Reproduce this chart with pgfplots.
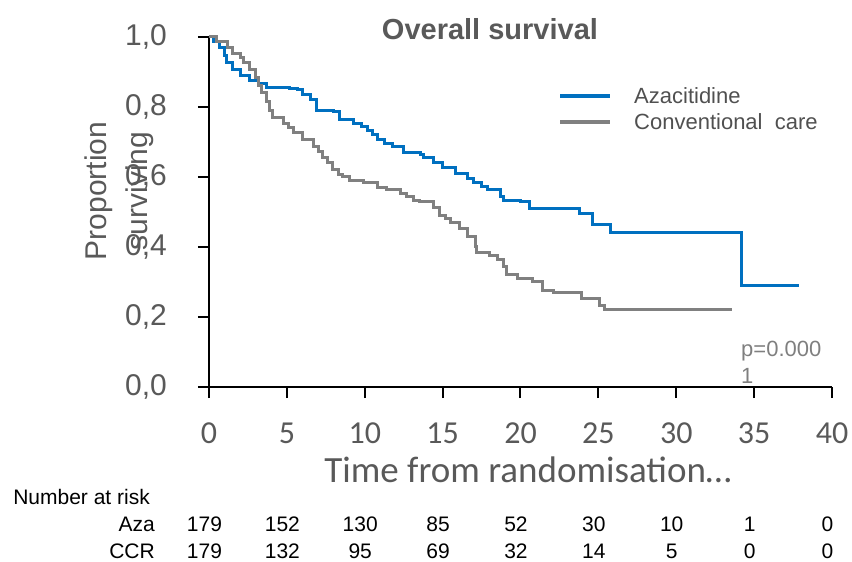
\documentclass[border=0pt]{standalone}
\usepackage{pgfplots}
\pgfplotsset{compat=1.18}
\usepackage{fontspec}
\setmainfont{Liberation Sans}
\newfontfamily\carlito{Carlito}
\definecolor{azablue}{HTML}{0070C0}
\definecolor{ccrgray}{HTML}{808080}
\definecolor{tickgray}{HTML}{595959}
\definecolor{leggray}{HTML}{505050}
\definecolor{pgray}{HTML}{7F7F7F}
\begin{document}
\begin{tikzpicture}
\useasboundingbox (-209pt,-175pt) rectangle (643pt,387pt);
\begin{axis}[
  at={(0pt,0pt)}, anchor=south west,
  scale only axis, width=623pt, height=350pt,
  xmin=0, xmax=40, ymin=0, ymax=1,
  axis x line*=bottom, axis y line*=left,
  axis line style={line width=2pt, black},
  xtick={0,5,...,40}, ytick={0,0.2,...,1.0},
  tick align=outside, major tick length=11pt,
  major tick style={line width=2pt, black},
  /pgf/number format/assume math mode=true,
  yticklabel={\pgfmathprintnumber[fixed, fixed zerofill, precision=1, use comma]{\tick}},
  xticklabel style={font=\carlito\fontsize{32}{38}\selectfont, text=tickgray, anchor=center, yshift=-35pt},
  yticklabel style={font=\fontsize{30}{36}\selectfont, text=tickgray, anchor=east, inner sep=0pt, xshift=-31pt},
  xlabel={Time from randomisation…},
  xlabel style={at={(axis description cs:0.512,-0.237)}, anchor=center, font=\carlito\fontsize{37}{44}\selectfont, text=tickgray},
  ylabel={Proportion\\surviving},
  ylabel style={at={(axis description cs:-0.144,0.56)}, anchor=center, align=center, font=\fontsize{30}{41}\selectfont, text=tickgray},
  title={Overall survival},
  title style={at={(axis description cs:0.451,1.006)}, anchor=center, font=\bfseries\fontsize{29}{34}\selectfont, text=tickgray},
  legend style={at={(axis description cs:0.5554,0.863)}, anchor=north west, draw=none, fill=none,
    font=\fontsize{22}{26}\selectfont, text=leggray, nodes={inner sep=0pt}, row sep=9pt, column sep=22pt},
  legend cell align=left,
  legend image code/.code={\draw[#1, line width=4pt] (0pt,0pt) -- (50pt,0pt);},
  clip=false,
]
\addplot[const plot, azablue, line width=3pt] coordinates {
(0,1.0) (0.3,0.986) (0.7,0.969) (1.0,0.946) (1.1,0.926) (1.5,0.906) (2.0,0.891)
(2.6,0.877) (3.2,0.866) (3.7,0.857) (5.2,0.854) (5.7,0.849) (6.0,0.836) (6.5,0.82)
(6.9,0.791) (8.0,0.786) (8.4,0.763) (9.3,0.754) (9.8,0.743) (10.2,0.734) (10.5,0.72)
(10.8,0.706) (11.3,0.695) (11.8,0.686) (12.5,0.669) (13.6,0.663) (13.8,0.657)
(14.4,0.64) (15.0,0.626) (15.8,0.611) (16.6,0.597) (17.0,0.583) (17.5,0.574)
(17.9,0.563) (18.7,0.543) (18.9,0.534) (20.0,0.529) (20.6,0.511) (23.8,0.497)
(24.6,0.463) (25.8,0.44) (34.2,0.291) (37.9,0.291)
};
\addlegendentry{Azacitidine}
\addplot[const plot, ccrgray, line width=3pt] coordinates {
(0,1.0) (0.5,0.986) (1.2,0.969) (1.5,0.954) (2.0,0.94) (2.2,0.926) (2.6,0.906)
(3.0,0.883) (3.2,0.86) (3.4,0.84) (3.7,0.815) (3.9,0.791) (4.1,0.771) (4.8,0.754)
(5.1,0.74) (5.4,0.726) (6.0,0.706) (6.7,0.686) (7.0,0.672) (7.3,0.657) (7.6,0.64)
(7.9,0.62) (8.3,0.608) (8.6,0.6) (9.0,0.591) (9.9,0.583) (10.8,0.571) (11.4,0.563)
(12.3,0.554) (12.7,0.545) (13.1,0.534) (13.5,0.529) (14.4,0.514) (14.8,0.491)
(15.2,0.48) (15.5,0.469) (16.1,0.454) (16.6,0.429) (17.1,0.4) (17.2,0.383)
(18.0,0.377) (18.5,0.363) (18.9,0.343) (19.1,0.32) (19.8,0.311) (20.8,0.3)
(21.4,0.277) (22.1,0.269) (23.9,0.254) (25.1,0.234) (25.4,0.22) (33.6,0.22)
};
\addlegendentry{Conventional\ \ care}
% p-value
\node[anchor=base west, align=left, inner sep=0pt, font=\fontsize{22}{27}\selectfont, text=pgray]
  at (axis cs:34.16,0.009) {p=0.000\\1};
% number at risk
\node[anchor=base west, inner sep=0pt, font=\fontsize{21}{25}\selectfont] at (axis cs:-12.58,-0.337) {Number at risk};
\node[anchor=base east, inner sep=0pt, font=\fontsize{21}{25}\selectfont] at (axis cs:-3.47,-0.414) {Aza};
\node[anchor=base east, inner sep=0pt, font=\fontsize{21}{25}\selectfont] at (axis cs:-3.47,-0.491) {CCR};
\tikzset{risk/.style={anchor=base, inner sep=0pt, xshift=-4.5pt, font=\fontsize{21}{25}\selectfont}}
\node[risk] at (axis cs:0,-0.414) {179};
\node[risk] at (axis cs:5,-0.414) {152};
\node[risk] at (axis cs:10,-0.414) {130};
\node[risk] at (axis cs:15,-0.414) {85};
\node[risk] at (axis cs:20,-0.414) {52};
\node[risk] at (axis cs:25,-0.414) {30};
\node[risk] at (axis cs:30,-0.414) {10};
\node[risk] at (axis cs:35,-0.414) {1};
\node[risk] at (axis cs:40,-0.414) {0};
\node[risk] at (axis cs:0,-0.491) {179};
\node[risk] at (axis cs:5,-0.491) {132};
\node[risk] at (axis cs:10,-0.491) {95};
\node[risk] at (axis cs:15,-0.491) {69};
\node[risk] at (axis cs:20,-0.491) {32};
\node[risk] at (axis cs:25,-0.491) {14};
\node[risk] at (axis cs:30,-0.491) {5};
\node[risk] at (axis cs:35,-0.491) {0};
\node[risk] at (axis cs:40,-0.491) {0};
\end{axis}
\end{tikzpicture}
\end{document}
